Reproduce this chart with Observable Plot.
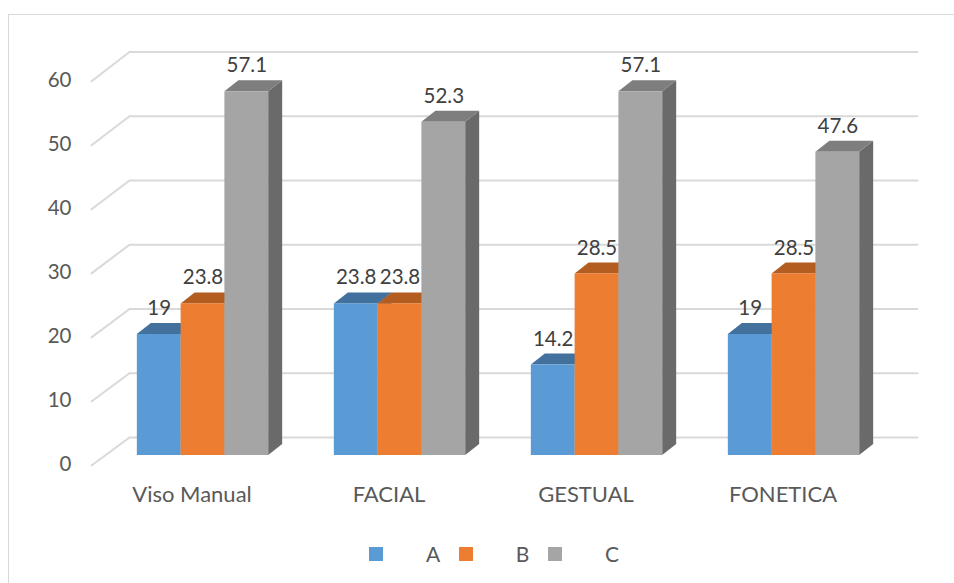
<!DOCTYPE html>
<html><head><meta charset="utf-8">
<script src="https://cdn.jsdelivr.net/npm/d3@7"></script>
<script src="https://cdn.jsdelivr.net/npm/@observablehq/plot@0.6"></script>
<style>
html,body{margin:0;padding:0;background:#fff;}
#wrap{position:relative;width:954px;height:583px;overflow:hidden;font-family:Lato,sans-serif;}
#frame{position:absolute;left:8px;top:14px;width:1000px;height:1000px;border:1.5px solid #d9d9d9;box-sizing:border-box;}
#chart{position:absolute;left:0;top:0;}
#legend{position:absolute;left:369px;top:525px;height:58px;display:flex;align-items:center;}
.item{position:relative;width:89.5px;height:22px;}
.sw{position:absolute;left:0;top:4px;width:14px;height:14px;}
.lb{position:absolute;left:44px;width:40px;text-align:center;line-height:22px;font-size:21px;color:#595959;}
</style></head>
<body>
<div id="wrap"><div id="frame"></div><div id="chart"></div><div id="legend"></div></div>
<script>
// ---- data ----
const categories = ["Viso Manual", "FACIAL", "GESTUAL", "FONETICA"];
const series = ["A", "B", "C"];
const valuesA = [19, 23.8, 14.2, 19];
const valuesB = [23.8, 23.8, 28.5, 28.5];
const valuesC = [57.1, 52.3, 57.1, 47.6];
const yTicks = [0, 10, 20, 30, 40, 50, 60];

const frontColors = {A: "#5B9BD5", B: "#ED7D31", C: "#A5A5A5"};
const topColors = {A: "#41719C", B: "#B35D20", C: "#7E7E7E"};
const sideColors = {A: "#3A6791", B: "#A5551D", C: "#6A6A6A"};

// ---- geometry (scale ranges & oblique depth in px) ----
const W = 954, H = 525;
const X0 = 104, X1 = 892, Y0 = 455, YT = 72.8;
const pxX = 4 / (X1 - X0), pxY = 60 / (Y0 - YT);
const barDX = 14 * pxX, barDY = 11 * pxY;
const wallDX = 25 * pxX, floorDX = -13 * pxX;
const wallY = v => v * 1.0086 + 18 * pxY;
const floorY = v => v * 1.0055 - 10 * pxY;

const valuesBySeries = {A: valuesA, B: valuesB, C: valuesC};
const bars = [];
categories.forEach((c, i) => {
  series.forEach((s, j) => {
    const x1 = i + 1/6 + j * 2/9, x2 = x1 + 2/9;
    bars.push({id: c + s, cat: c, s, x1, x2, v: valuesBySeries[s][i]});
  });
});
const tops = bars.flatMap(b => [
  {id: b.id, s: b.s, y: b.v, x1: b.x1, x2: b.x2},
  {id: b.id, s: b.s, y: b.v + barDY, x1: b.x1 + barDX, x2: b.x2 + barDX}
]);
const sides = bars.flatMap(b => [
  {id: b.id, s: b.s, x: b.x2, y1: 0, y2: b.v},
  {id: b.id, s: b.s, x: b.x2 + barDX, y1: barDY, y2: b.v + barDY}
]);
const grid = yTicks.flatMap(v => [
  {v, x: floorDX, y: floorY(v)},
  {v, x: wallDX, y: wallY(v)},
  {v, x: 4 + wallDX, y: wallY(v)}
]);

const plot = Plot.plot({
  width: W, height: H,
  x: {domain: [0, 4], range: [X0, X1], axis: null},
  y: {domain: [0, 60], range: [Y0, YT], axis: null},
  style: {fontFamily: "Lato, sans-serif", background: "transparent"},
  marks: [
    Plot.line(grid, {x: "x", y: "y", z: "v", stroke: "#D9D9D9", strokeWidth: 2}),
    Plot.text(yTicks, {x: () => floorDX, y: v => floorY(v), text: v => String(v), textAnchor: "end", dx: -20, dy: -1, fill: "#595959", fontSize: 20.5}),
    Plot.areaY(sides, {x: "x", y1: "y1", y2: "y2", z: "id", fill: d => sideColors[d.s]}),
    Plot.areaX(tops, {y: "y", x1: "x1", x2: "x2", z: "id", fill: d => topColors[d.s]}),
    Plot.rect(bars, {x1: "x1", x2: "x2", y1: 0, y2: "v", fill: d => frontColors[d.s]}),
    Plot.text(bars, {x: d => (d.x1 + d.x2) / 2, y: "v", text: d => String(d.v), dy: -26, fill: "#404040", fontSize: 20.5}),
    Plot.text(categories, {x: (d, i) => i + 0.5, y: () => 0, text: d => d, dy: 39, dx: -11, fill: "#595959", fontSize: 22})
  ]
});
document.getElementById("chart").appendChild(plot);

const legend = document.getElementById("legend");
series.forEach(s => {
  const it = document.createElement("div"); it.className = "item";
  const sw = document.createElement("div"); sw.className = "sw"; sw.style.background = frontColors[s];
  const lb = document.createElement("div"); lb.className = "lb"; lb.textContent = s;
  it.appendChild(sw); it.appendChild(lb); legend.appendChild(it);
});
</script>
</body></html>
